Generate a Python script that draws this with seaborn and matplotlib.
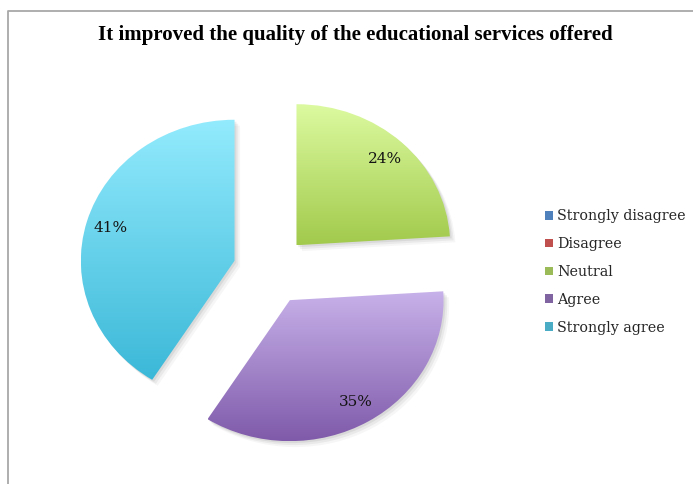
import numpy as np
import matplotlib
matplotlib.use("Agg")
import matplotlib.pyplot as plt
from matplotlib.colors import LinearSegmentedColormap
from matplotlib.patches import Patch, Wedge
from matplotlib.lines import Line2D
import matplotlib.transforms as mtransforms
import seaborn as sns

# Survey answers and their shares (percent)
categories = ["Strongly disagree", "Disagree", "Neutral", "Agree", "Strongly agree"]
shares = [0, 0, 24, 35, 41]

# Base palette plus the light/dark ends of each slice's vertical gradient
base_colors = ["#4f81bd", "#c0504d", "#9bbb59", "#8064a2", "#4bacc6"]
top_colors = ["#8fb4e6", "#e88a88", "#dcfaa0", "#c8b2ea", "#93ebfd"]
bottom_colors = ["#3d6fb0", "#b5403d", "#a2ca4c", "#7f5aaa", "#3bb8d8"]

title = "It improved the quality of the educational services offered"

sns.set_theme(style="white")
plt.rcParams["font.family"] = ["DejaVu Serif", "Liberation Serif"]
palette = sns.color_palette(base_colors)

W, H = 693, 484
fig = plt.figure(figsize=(W / 100, H / 100), dpi=100)
fig.patch.set_facecolor("white")
ax = fig.add_axes([0, 0, 1, 1])

# Pie centre and radii in pixels (slightly wider than tall)
cx, cy = 270.7, 270.4
rx, ry = 153.7, 141.0

wedges, texts, autotexts = ax.pie(
    shares,
    explode=[0.245] * len(shares),
    startangle=90,
    counterclock=False,
    radius=1.0,
    colors=palette,
    autopct=lambda p: f"{p:.0f}%" if p > 0.5 else "",
    pctdistance=0.84,
    wedgeprops=dict(linewidth=0),
    textprops=dict(fontsize=11, color="#141414"),
)
ax.set_aspect("auto")
ax.axis("off")

# Soft drop shadow and vertical gradient fill for every visible slice
for w, share, top, bot in zip(wedges, shares, top_colors, bottom_colors):
    if share <= 0:
        w.set_visible(False)
        continue
    for k, a in [(3, 0.05), (2, 0.08), (1, 0.10)]:
        sh = Wedge(w.center, w.r, w.theta1, w.theta2,
                   facecolor="#555555", edgecolor="none", alpha=a, zorder=0.5)
        sh.set_transform(
            mtransforms.Affine2D().translate(k * 0.012, -k * 0.014) + ax.transData
        )
        ax.add_patch(sh)
    w.set_facecolor("none")
    w.set_zorder(1)
    ext = w.get_path().get_extents()
    cmap = LinearSegmentedColormap.from_list("g", [top, bot])
    grad = np.linspace(0, 1, 256).reshape(-1, 1)
    im = ax.imshow(grad, cmap=cmap, aspect="auto", origin="upper",
                   extent=(ext.x0, ext.x1, ext.y0, ext.y1), zorder=1,
                   interpolation="bilinear")
    im.set_clip_path(w)

for t in autotexts:
    t.set_zorder(3)
ax.set_xlim((0 - cx) / rx, (W - cx) / rx)
ax.set_ylim((cy - H) / ry, cy / ry)

fig.text(355.5 / W, 1 - 35 / H, title, ha="center", va="center",
         fontsize=15, fontweight="bold", color="black",
         family=["Liberation Serif", "DejaVu Serif"])

handles = [Patch(facecolor=c, edgecolor="none") for c in palette]
fig.legend(handles, categories, loc="center left",
           bbox_to_anchor=(545 / W, 1 - 272 / H), frameon=False,
           fontsize=10.3, handlelength=0.57, handleheight=0.57,
           handletextpad=0.3, labelspacing=0.97, borderpad=0,
           borderaxespad=0)

# Chart frame (top and left edges)
fig.add_artist(Line2D([8 / W, 8 / W, 1.0], [0.0, 1 - 10.5 / H, 1 - 10.5 / H],
                      transform=fig.transFigure, color="#a8a8a8", lw=1.3))

fig.savefig("out.png", dpi=100)
